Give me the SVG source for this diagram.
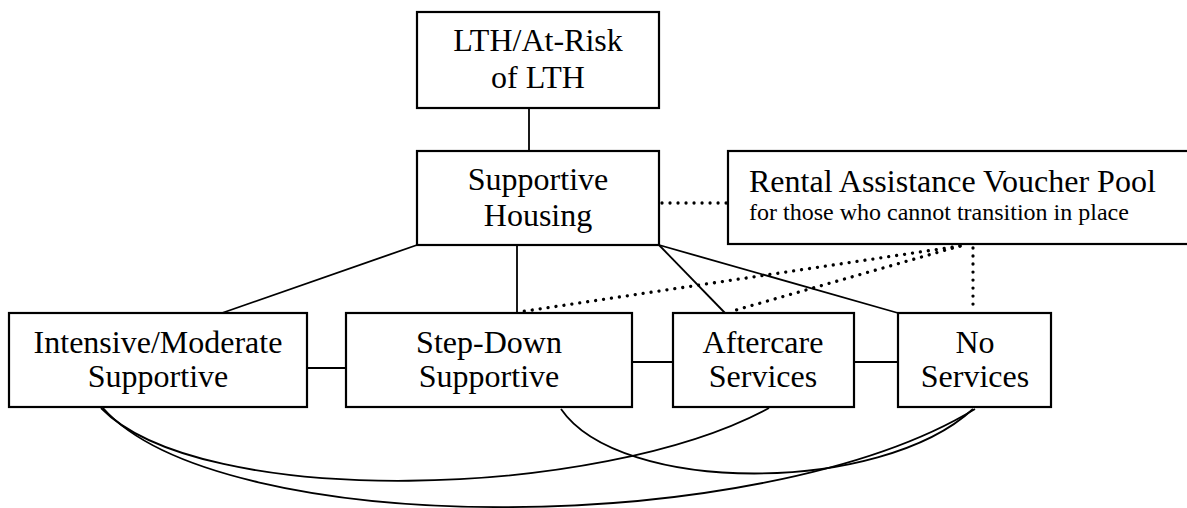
<svg xmlns="http://www.w3.org/2000/svg" width="1187" height="508" viewBox="0 0 1187 508">
<style>
.box{fill:#fff;stroke:#000;stroke-width:2.2}
.ln{fill:none;stroke:#000;stroke-width:1.8}
.dot{fill:none;stroke:#000;stroke-width:3.3;stroke-linecap:round;stroke-dasharray:0.01 8}
text{font-family:"Liberation Serif","Times New Roman",serif;font-size:32px;fill:#000;text-anchor:middle}
.sm{font-size:24px}
</style>
<rect width="1187" height="508" fill="#fff"/>
<g id="connectors">
<line class="ln" x1="529" y1="108" x2="529" y2="151"/>
<line class="ln" x1="417" y1="245" x2="222" y2="313"/>
<line class="ln" x1="517" y1="245" x2="517" y2="313"/>
<line class="ln" x1="659" y1="245" x2="725" y2="313"/>
<line class="ln" x1="659" y1="245" x2="898" y2="313"/>
<line class="ln" x1="307" y1="368" x2="346" y2="368"/>
<line class="ln" x1="632" y1="362" x2="673" y2="362"/>
<line class="ln" x1="854" y1="362" x2="898" y2="362"/>
<line class="dot" x1="662" y1="203" x2="727" y2="203"/>
<line class="dot" x1="960" y1="246" x2="519" y2="312"/>
<line class="dot" x1="960" y1="246" x2="729" y2="312"/>
<line class="dot" x1="973" y1="248" x2="973" y2="312"/>
<path class="ln" d="M101 408 C200 510 600 500 769 408"/>
<path class="ln" d="M103 408 C220 540 760 540 975 409"/>
<path class="ln" d="M561 409 C620 495 880 495 973 409"/>
</g>
<g id="lth">
<rect class="box" x="417" y="12" width="242" height="96"/>
<text x="538" y="51">LTH/At-Risk</text>
<text x="538" y="88">of LTH</text>
</g>
<g id="supportive-housing">
<rect class="box" x="417" y="151" width="242" height="94"/>
<text x="538" y="190">Supportive</text>
<text x="538" y="226">Housing</text>
</g>
<g id="rental">
<rect class="box" x="728" y="151" width="470" height="93"/>
<text x="749" y="192" style="text-anchor:start">Rental Assistance Voucher Pool</text>
<text class="sm" x="749" y="220" style="text-anchor:start">for those who cannot transition in place</text>
</g>
<g id="intensive">
<rect class="box" x="9" y="313" width="298" height="94"/>
<text x="158" y="353">Intensive/Moderate</text>
<text x="158" y="387">Supportive</text>
</g>
<g id="step-down">
<rect class="box" x="346" y="313" width="286" height="94"/>
<text x="489" y="353">Step-Down</text>
<text x="489" y="387">Supportive</text>
</g>
<g id="aftercare">
<rect class="box" x="673" y="313" width="181" height="94"/>
<text x="763" y="353">Aftercare</text>
<text x="763" y="387">Services</text>
</g>
<g id="no-services">
<rect class="box" x="898" y="313" width="153" height="94"/>
<text x="975" y="353">No</text>
<text x="975" y="387">Services</text>
</g>
</svg>
